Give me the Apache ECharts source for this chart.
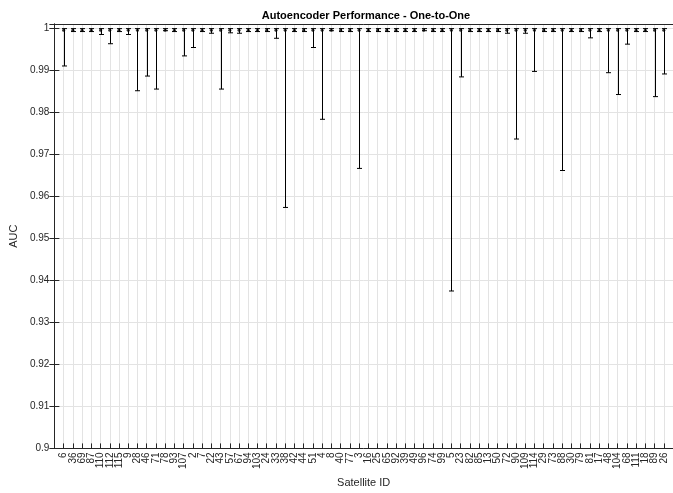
<!DOCTYPE html>
<html><head><meta charset="utf-8">
<script src="https://cdn.jsdelivr.net/npm/echarts@6/dist/echarts.min.js"></script>
<style>html,body{margin:0;padding:0;background:#fff;}#c{width:673px;height:493px;}</style>
</head><body><div id="c"></div>
<script>
var satelliteIds = ['6','36','69','87','110','112','115','9','28','46','71','78','93','107','2','7','22','43','57','67','94','103','24','33','38','42','44','51','4','8','40','77','3','16','25','65','92','39','49','96','74','99','5','23','82','85','13','50','72','90','109','114','29','73','88','30','79','81','17','48','104','68','111','18','89','26'];
var lowerAUC = [0.9911,0.9993,0.9993,0.9993,0.9986,0.9964,0.9993,0.9986,0.9852,0.9887,0.9856,0.9995,0.9993,0.9935,0.9955,0.9993,0.9989,0.9856,0.9990,0.9989,0.9993,0.9993,0.9993,0.9977,0.9574,0.9993,0.9993,0.9955,0.9784,0.9995,0.9993,0.9993,0.9667,0.9993,0.9993,0.9993,0.9993,0.9993,0.9993,0.9995,0.9993,0.9993,0.9375,0.9885,0.9993,0.9993,0.9993,0.9993,0.9989,0.9737,0.9989,0.9898,0.9993,0.9993,0.9662,0.9993,0.9993,0.9978,0.9993,0.9895,0.9843,0.9963,0.9993,0.9993,0.9838,0.9892];
var meanAUC = satelliteIds.map(function(){return 0.9996;});
var upperAUC = satelliteIds.map(function(){return 1.0;});
var yTicks = [0.9,0.91,0.92,0.93,0.94,0.95,0.96,0.97,0.98,0.99,1];

var errData = satelliteIds.map(function(id,i){return [i+1, lowerAUC[i], upperAUC[i]];});
var meanData = satelliteIds.map(function(id,i){return [i+1, meanAUC[i]];});

var txt = '#262626';
var font = 'Liberation Sans, Arial, Helvetica, sans-serif';
var chart = echarts.init(document.getElementById('c'), null, {renderer:'canvas'});
chart.setOption({
  animation:false,
  backgroundColor:'#fff',
  title:{text:'Autoencoder Performance - One-to-One', left:361, top:5, textAlign:'center',
    textStyle:{fontSize:11, fontWeight:'bold', color:'#000', fontFamily:font}},
  grid:{left:48, top:24, width:630, height:432.7},
  xAxis:[{type:'value', min:0, max:67, interval:1, position:'bottom',
    name:'Satellite ID', nameLocation:'middle', nameGap:28,
    nameTextStyle:{fontSize:11, color:txt, fontFamily:font},
    axisLine:{show:true, lineStyle:{color:txt, width:1}},
    axisTick:{show:true, inside:true, length:5, lineStyle:{color:txt}},
    axisLabel:{rotate:90, fontSize:10, color:txt, fontFamily:font, margin:4,
      formatter:function(v){var k=Math.round(v);return (k>=1&&k<=satelliteIds.length)?satelliteIds[k-1]:'';}},
    splitLine:{show:true, lineStyle:{color:'#e3e3e3', width:1}}},
   {type:'value', min:0, max:67, interval:1, position:'top',
    axisLine:{show:true, lineStyle:{color:txt, width:1}},
    axisTick:{show:false}, axisLabel:{show:false}, splitLine:{show:false}}],
  yAxis:[{type:'value', min:0.9, max:1.0011, interval:0.01,
    name:'AUC', nameLocation:'middle', nameGap:34,
    nameTextStyle:{fontSize:11, color:txt, fontFamily:font},
    axisLine:{show:true, lineStyle:{color:txt, width:1}},
    axisTick:{show:true, inside:true, length:5, lineStyle:{color:txt}},
    axisLabel:{fontSize:10, color:txt, fontFamily:font, margin:5, showMaxLabel:false,
      formatter:function(v){for(var i=0;i<yTicks.length;i++){if(Math.abs(v-yTicks[i])<1e-6)return String(yTicks[i]);}return '';}},
    splitLine:{show:true, lineStyle:{color:'#e3e3e3', width:1}}},
   {type:'value', min:0.9, max:1.0011, interval:0.01, position:'right',
    axisLine:{show:true, lineStyle:{color:txt, width:1}},
    axisTick:{show:true, inside:true, length:5, lineStyle:{color:txt}},
    axisLabel:{show:false}, splitLine:{show:false}}],
  series:[
    {type:'custom', xAxisIndex:0, yAxisIndex:0, data:errData, z:5,
     renderItem:function(params, api){
       var x=api.value(0), lo=api.value(1), hi=api.value(2);
       var a=api.coord([x,lo]), b=api.coord([x,hi]);
       var cx=Math.round(a[0])+0.5, hw=2.5;
       var st={stroke:'#000', lineWidth:1};
       return {type:'group', children:[
         {type:'line', shape:{x1:cx,y1:a[1],x2:cx,y2:b[1]}, style:st},
         {type:'line', shape:{x1:cx-hw,y1:a[1],x2:cx+hw,y2:a[1]}, style:st},
         {type:'line', shape:{x1:cx-hw,y1:b[1],x2:cx+hw,y2:b[1]}, style:st}
       ]};
     }},
    {type:'scatter', xAxisIndex:0, yAxisIndex:0, data:meanData, symbol:'circle', symbolSize:3,
     itemStyle:{color:'#000'}, z:6}
  ]
});
</script></body></html>
